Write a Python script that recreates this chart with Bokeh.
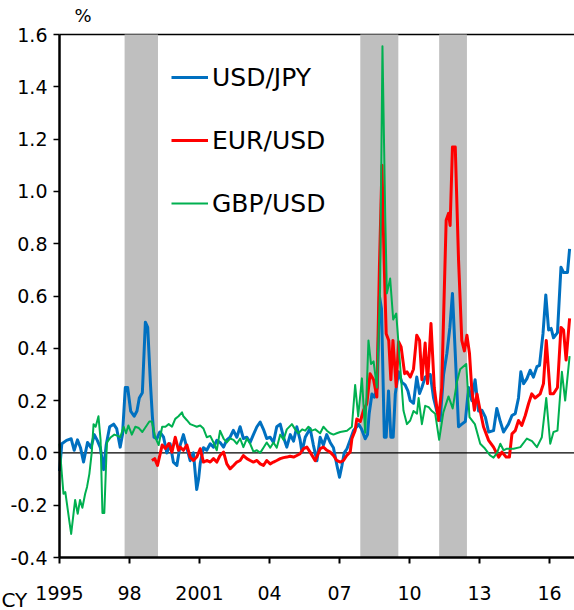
from bokeh.plotting import figure
from bokeh.models import (Range1d, FixedTicker, NumeralTickFormatter, Legend,
                          LegendItem, Label)
from bokeh.embed import file_html
from bokeh.resources import INLINE

# ---------------- data ----------------
usd_jpy_t = [1995.00, 1995.10, 1995.30, 1995.50, 1995.63, 1995.77, 1995.90, 1996.03, 1996.20, 1996.35,
             1996.49, 1996.62, 1996.75, 1996.89, 1997.00, 1997.15, 1997.32, 1997.45, 1997.60, 1997.70,
             1997.82, 1997.92, 1998.05, 1998.20, 1998.32, 1998.42, 1998.55, 1998.68, 1998.78, 1998.90,
             1998.98, 1999.05, 1999.17, 1999.30, 1999.46, 1999.60, 1999.74, 1999.88, 2000.03, 2000.17,
             2000.31, 2000.45, 2000.60, 2000.74, 2000.88, 2000.96, 2001.03, 2001.17, 2001.31, 2001.46,
             2001.60, 2001.74, 2001.88, 2002.03, 2002.17, 2002.31, 2002.45, 2002.60, 2002.74, 2002.88,
             2003.03, 2003.17, 2003.31, 2003.46, 2003.60, 2003.74, 2003.88, 2004.03, 2004.17, 2004.31,
             2004.46, 2004.60, 2004.74, 2004.89, 2005.03, 2005.17, 2005.31, 2005.39, 2005.53, 2005.74,
             2005.88, 2006.03, 2006.17, 2006.31, 2006.45, 2006.60, 2006.74, 2006.89, 2007.00, 2007.10,
             2007.20, 2007.32, 2007.46, 2007.60, 2007.72, 2007.82, 2007.95, 2008.10, 2008.20, 2008.27,
             2008.39, 2008.50, 2008.62, 2008.71, 2008.80, 2008.92, 2009.00, 2009.10, 2009.20, 2009.30,
             2009.39, 2009.53, 2009.67, 2009.81, 2009.93, 2010.03, 2010.17, 2010.31, 2010.43, 2010.53,
             2010.67, 2010.89, 2011.03, 2011.17, 2011.31, 2011.46, 2011.60, 2011.73, 2011.84, 2011.96,
             2012.10, 2012.24, 2012.39, 2012.53, 2012.67, 2012.81, 2012.96, 2013.10, 2013.25, 2013.39,
             2013.60, 2013.74, 2013.89, 2014.03, 2014.24, 2014.39, 2014.53, 2014.67, 2014.77, 2014.89,
             2015.03, 2015.17, 2015.31, 2015.46, 2015.57, 2015.72, 2015.84, 2015.96, 2016.07, 2016.17,
             2016.34, 2016.49, 2016.60, 2016.77, 2016.86]
usd_jpy_v = [-0.07, 0.035, 0.048, 0.054, 0.01, 0.05, 0.02, -0.035, 0.04, 0.02,
             0.07, 0.048, 0.02, -0.064, 0.03, 0.10, 0.11, 0.093, 0.022, 0.07,
             0.25, 0.25, 0.16, 0.14, 0.16, 0.21, 0.23, 0.50, 0.48, 0.26,
             0.14, 0.06, 0.054, 0.08, 0.06, 0.0, 0.035, -0.035, -0.048, 0.029,
             0.07, 0.022, -0.03, 0.0, -0.14, -0.10, -0.04, 0.02, 0.01, 0.035,
             0.022, 0.048, 0.04, 0.022, 0.05, 0.06, 0.086, 0.06, 0.10, 0.055,
             0.06, 0.04, 0.07, 0.10, 0.118, 0.09, 0.055, 0.06, 0.04, 0.10,
             0.11, 0.06, 0.022, 0.07, 0.045, 0.10, 0.05, 0.003, 0.06, 0.093,
             0.03, -0.03, 0.06, 0.03, 0.07, 0.04, 0.02, -0.048, -0.093, -0.05,
             0.0, 0.016, 0.05, 0.086, 0.098, 0.11, 0.09, 0.054, 0.07, 0.15,
             0.225, 0.213, 0.25, 0.60, 0.55, 0.06, 0.06, 0.237, 0.06, 0.06,
             0.225, 0.31, 0.27, 0.26, 0.237, 0.20, 0.19, 0.29, 0.227, 0.25,
             0.29, 0.30, 0.21, 0.16, 0.124, 0.30, 0.38, 0.48, 0.61, 0.38,
             0.10, 0.11, 0.12, 0.25, 0.20, 0.28, 0.16, 0.163, 0.137, 0.08,
             0.085, 0.17, 0.12, 0.08, 0.11, 0.143, 0.15, 0.21, 0.31, 0.265,
             0.284, 0.316, 0.29, 0.33, 0.335, 0.456, 0.604, 0.47, 0.476, 0.44,
             0.46, 0.71, 0.69, 0.69, 0.78]

eur_usd_t = [1998.96, 1999.08, 1999.20, 1999.40, 1999.54, 1999.68, 1999.82, 1999.96, 2000.10, 2000.17,
             2000.31, 2000.46, 2000.60, 2000.74, 2000.88, 2001.03, 2001.17, 2001.31, 2001.46, 2001.60,
             2001.74, 2001.88, 2002.03, 2002.17, 2002.31, 2002.46, 2002.60, 2002.74, 2002.88, 2003.03,
             2003.17, 2003.31, 2003.46, 2003.60, 2003.74, 2003.88, 2004.03, 2004.17, 2004.31, 2004.46,
             2004.60, 2004.74, 2004.88, 2005.03, 2005.17, 2005.31, 2005.46, 2005.60, 2005.74, 2005.96,
             2006.17, 2006.31, 2006.46, 2006.60, 2006.74, 2006.88, 2007.03, 2007.17, 2007.31, 2007.46,
             2007.53, 2007.67, 2007.74, 2007.89, 2008.03, 2008.17, 2008.31, 2008.46, 2008.60, 2008.71,
             2008.82, 2008.91, 2009.00, 2009.11, 2009.20, 2009.29, 2009.43, 2009.53, 2009.64, 2009.79,
             2009.89, 2010.03, 2010.17, 2010.31, 2010.43, 2010.53, 2010.67, 2010.77, 2010.92, 2011.06,
             2011.24, 2011.38, 2011.57, 2011.67, 2011.74, 2011.84, 2011.96, 2012.10, 2012.24, 2012.35,
             2012.46, 2012.57, 2012.67, 2012.78, 2012.89, 2013.03, 2013.17, 2013.39, 2013.60, 2013.82,
             2013.96, 2014.14, 2014.28, 2014.39, 2014.53, 2014.67, 2014.81, 2014.96, 2015.10, 2015.24,
             2015.38, 2015.60, 2015.74, 2015.86, 2016.03, 2016.17, 2016.34, 2016.49, 2016.60, 2016.71,
             2016.86]
eur_usd_v = [-0.029, -0.022, -0.048, 0.03, 0.017, 0.036, 0.003, 0.06, 0.01, 0.022,
             0.01, 0.03, -0.016, -0.029, -0.016, 0.016, -0.035, -0.029, -0.035, -0.022,
             -0.035, -0.01, 0.003, -0.042, -0.061, -0.048, -0.035, -0.029, -0.01, -0.022,
             -0.029, -0.035, -0.029, -0.042, -0.048, -0.029, -0.042, -0.035, -0.029, -0.022,
             -0.018, -0.016, -0.013, -0.016, -0.01, -0.003, 0.016, 0.022, 0.003, -0.03,
             0.016, 0.022, 0.01, 0.003, -0.01, -0.029, -0.035, -0.029, -0.01, 0.004,
             0.054, 0.086, 0.13, 0.12, 0.163, 0.188, 0.303, 0.28, 0.214, 0.71,
             1.10, 0.737, 0.456, 0.43, 0.28, 0.43, 0.253, 0.425, 0.405, 0.303,
             0.31, 0.29, 0.32, 0.45, 0.43, 0.28, 0.42, 0.265, 0.495, 0.25,
             0.124, 0.25, 0.89, 0.916, 0.87, 1.17, 1.17, 0.74, 0.43, 0.39,
             0.45, 0.38, 0.24, 0.163, 0.225, 0.16, 0.10, 0.048, 0.022, -0.016,
             0.003, -0.016, -0.016, 0.073, 0.085, 0.124, 0.105, 0.143, 0.188, 0.226,
             0.21, 0.226, 0.265, 0.43, 0.226, 0.226, 0.25, 0.48, 0.47, 0.355,
             0.514]

gbp_usd_t = [1995.00, 1995.10, 1995.17, 1995.25, 1995.32, 1995.42, 1995.50, 1995.60, 1995.67, 1995.78,
             1995.88, 1995.98, 1996.10, 1996.18, 1996.28, 1996.38, 1996.46, 1996.55, 1996.67, 1996.76,
             1996.84, 1996.92, 1997.03, 1997.20, 1997.35, 1997.50, 1997.60, 1997.75, 1997.85, 1997.95,
             1998.10, 1998.25, 1998.40, 1998.55, 1998.70, 1998.85, 1998.96, 1999.10, 1999.25, 1999.40,
             1999.54, 1999.68, 1999.82, 1999.96, 2000.10, 2000.25, 2000.31, 2000.46, 2000.60, 2000.74,
             2000.88, 2001.03, 2001.17, 2001.31, 2001.46, 2001.60, 2001.74, 2001.88, 2002.03, 2002.17,
             2002.31, 2002.46, 2002.60, 2002.74, 2002.88, 2003.03, 2003.17, 2003.31, 2003.46, 2003.60,
             2003.74, 2003.88, 2004.03, 2004.17, 2004.31, 2004.46, 2004.60, 2004.74, 2004.96, 2005.10,
             2005.24, 2005.40, 2005.53, 2005.67, 2005.81, 2005.96, 2006.17, 2006.31, 2006.46, 2006.60,
             2006.74, 2006.88, 2007.03, 2007.32, 2007.53, 2007.67, 2007.80, 2007.96, 2008.10, 2008.24,
             2008.35, 2008.46, 2008.60, 2008.74, 2008.84, 2008.96, 2009.03, 2009.17, 2009.30, 2009.43,
             2009.57, 2009.74, 2009.89, 2010.03, 2010.17, 2010.32, 2010.39, 2010.53, 2010.67, 2010.82,
             2010.96, 2011.10, 2011.27, 2011.45, 2011.67, 2011.85, 2012.03, 2012.17, 2012.43, 2012.57,
             2012.80, 2013.03, 2013.20, 2013.46, 2013.60, 2013.75, 2013.89, 2014.03, 2014.17, 2014.46,
             2014.75, 2015.03, 2015.25, 2015.46, 2015.67, 2015.86, 2016.03, 2016.17, 2016.34, 2016.53,
             2016.67, 2016.86]
gbp_usd_v = [0.035, -0.08, -0.156, -0.15, -0.195, -0.26, -0.31, -0.233, -0.18, -0.233,
             -0.18, -0.21, -0.156, -0.13, -0.08, 0.0, 0.11, 0.10, 0.14, 0.05,
             -0.23, -0.23, 0.04, 0.06, 0.07, 0.065, 0.06, 0.10, 0.075, 0.105,
             0.07, 0.10, 0.095, 0.08, 0.10, 0.12, 0.12, 0.06, 0.03, 0.10,
             0.10, 0.11, 0.10, 0.13, 0.14, 0.155, 0.14, 0.125, 0.11, 0.105,
             0.10, 0.105, 0.093, 0.06, 0.065, 0.04, 0.01, 0.085, 0.055, 0.04,
             0.055, 0.05, 0.035, 0.055, 0.022, 0.055, 0.035, 0.005, 0.01, 0.0,
             0.02, 0.04, 0.02, 0.04, 0.02, 0.07, 0.05, 0.09, 0.11, 0.09,
             0.075, 0.09, 0.085, 0.10, 0.085, 0.09, 0.075, 0.10, 0.085, 0.075,
             0.07, 0.075, 0.08, 0.085, 0.10, 0.26, 0.14, 0.285, 0.077, 0.43,
             0.34, 0.35, 0.25, 0.635, 1.555, 0.90, 0.61, 0.667, 0.51, 0.533,
             0.367, 0.162, 0.11, 0.124, 0.16, 0.15, 0.21, 0.11, 0.18, 0.175,
             0.16, 0.15, 0.05, 0.155, 0.216, 0.17, 0.27, 0.32, 0.34, 0.137,
             0.11, 0.035, 0.02, -0.01, -0.018, 0.0, 0.035, 0.01, 0.016, 0.016,
             0.022, 0.055, 0.045, 0.022, 0.06, 0.21, 0.035, 0.08, 0.085, 0.31,
             0.2, 0.37]

# shaded periods
shade_start = [1997.79, 2007.89, 2011.27]
shade_end = [1999.22, 2009.52, 2012.46]

year_ticks = [1995, 1998, 2001, 2004, 2007, 2010, 2013, 2016]
year_labels = ["1995", "98", "2001", "04", "07", "10", "13", "16"]
value_ticks = [-0.4, -0.2, 0.0, 0.2, 0.4, 0.6, 0.8, 1.0, 1.2, 1.4, 1.6]

series_names = ["USD/JPY", "EUR/USD", "GBP/USD"]
series_colors = ["#0070C0", "#FF0000", "#00B050"]
unit_text = "%"
period_text = "CY"

# plotted area (axes box) and the page margins around it, in pixels
X_MIN, X_MAX = 1995, 2017.07
Y_MIN, Y_MAX = -0.4, 1.6
W, H = 574, 610
M_LEFT, M_TOP, M_BOTTOM = 59, 34, 53
FONT = "DejaVu Sans"

# the frame spans the whole canvas; axes are pinned at the box edges
px_per_x = (W - M_LEFT) / (X_MAX - X_MIN)
px_per_y = (H - M_TOP - M_BOTTOM) / (Y_MAX - Y_MIN)
x_range = Range1d(X_MIN - M_LEFT / px_per_x, X_MAX)
y_range = Range1d(Y_MIN - M_BOTTOM / px_per_y, Y_MAX + M_TOP / px_per_y)

p = figure(width=W, height=H, output_backend="svg", toolbar_location=None,
           x_range=x_range, y_range=y_range,
           min_border_left=0, min_border_right=0, min_border_top=0, min_border_bottom=0)
p.outline_line_color = None
p.xgrid.visible = False
p.ygrid.visible = False
p.background_fill_color = "white"
p.border_fill_color = "white"

# top frame line (under the shading)
p.segment(x0=[X_MIN], y0=[Y_MAX], x1=[X_MAX], y1=[Y_MAX], line_color="black", line_width=1.5)

# shaded periods
p.quad(left=shade_start, right=shade_end, bottom=Y_MIN, top=Y_MAX,
       fill_color="#BFBFBF", line_color=None)

# zero line
p.segment(x0=[X_MIN], y0=[0], x1=[X_MAX], y1=[0], line_color="black", line_width=1.2)

r_jpy = p.line(usd_jpy_t, usd_jpy_v, line_color=series_colors[0], line_width=3, line_join="round")
r_eur = p.line(eur_usd_t, eur_usd_v, line_color=series_colors[1], line_width=3, line_join="round")
r_gbp = p.line(gbp_usd_t, gbp_usd_v, line_color=series_colors[2], line_width=2, line_join="round")

# axes
xa = p.xaxis[0]
xa.fixed_location = Y_MIN
xa.bounds = (X_MIN, X_MAX)
xa.ticker = FixedTicker(ticks=year_ticks, minor_ticks=[])
xa.major_label_overrides = {float(t): l for t, l in zip(year_ticks, year_labels)}
xa.axis_line_width = 2.5
xa.axis_line_color = "black"
xa.major_tick_line_width = 2
xa.major_tick_line_color = "black"
xa.major_tick_out = 6
xa.major_tick_in = 0
xa.minor_tick_line_color = None
xa.major_label_standoff = 22
xa.major_label_text_font = FONT
xa.major_label_text_font_size = "19px"
xa.major_label_text_color = "black"

ya = p.yaxis[0]
ya.fixed_location = X_MIN
ya.bounds = (Y_MIN, Y_MAX)
ya.ticker = FixedTicker(ticks=value_ticks, minor_ticks=[])
ya.formatter = NumeralTickFormatter(format="0.0")
ya.axis_line_width = 2.5
ya.axis_line_color = "black"
ya.major_tick_line_width = 1.5
ya.major_tick_line_color = "black"
ya.major_tick_out = 6
ya.major_tick_in = 0
ya.minor_tick_line_color = None
ya.major_label_standoff = 6
ya.major_label_text_font = FONT
ya.major_label_text_font_size = "19px"
ya.major_label_text_color = "black"

# unit labels
p.add_layout(Label(x=X_MIN, y=Y_MAX, x_offset=23.5, y_offset=19, text=unit_text,
                   text_align="center", text_baseline="middle",
                   text_font=FONT, text_font_size="18px", text_color="black"))
p.add_layout(Label(x=X_MIN, y=Y_MIN, x_offset=-58, y_offset=-42, text=period_text,
                   text_align="left", text_baseline="middle",
                   text_font=FONT, text_font_size="20px", text_color="black"))

# series legend (location relative to the frame's bottom-left = canvas bottom-left)
legend = Legend(items=[LegendItem(label=series_names[0], renderers=[r_jpy]),
                       LegendItem(label=series_names[1], renderers=[r_eur]),
                       LegendItem(label=series_names[2], renderers=[r_gbp])],
                location=(112 + M_LEFT, 334 + M_BOTTOM), orientation="vertical",
                padding=0, margin=0, spacing=23,
                glyph_width=37, glyph_height=40, label_height=40, label_standoff=4,
                label_text_font=FONT, label_text_font_size="25px",
                label_text_baseline="middle", label_text_color="black",
                border_line_color=None, background_fill_alpha=0)
p.add_layout(legend)

open("out.html", "w").write(file_html(p, INLINE))
